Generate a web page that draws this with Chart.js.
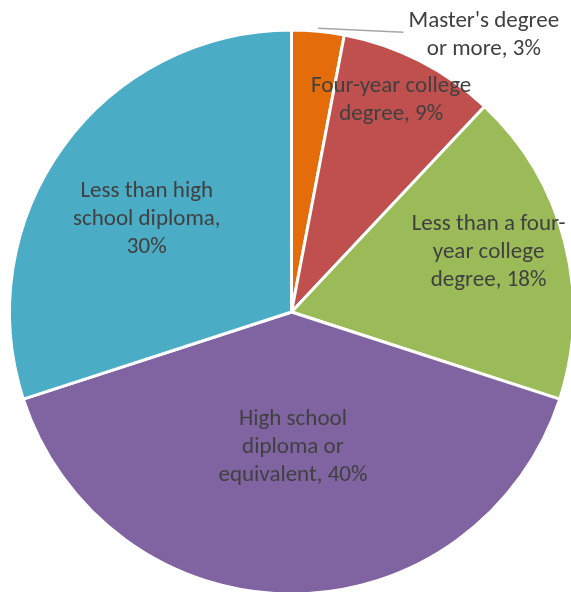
<!DOCTYPE html>
<html>
<head>
<meta charset="utf-8">
<script src="https://cdn.jsdelivr.net/npm/chart.js@4/dist/chart.umd.min.js"></script>
<style>
  html, body { margin: 0; padding: 0; background: #fff; }
  #wrap { width: 571px; height: 592px; position: relative; }
</style>
</head>
<body>
<div id="wrap"><canvas id="pieChart"></canvas></div>
<script>
var categories = ["Master's degree or more", "Four-year college degree", "Less than a four-year college degree", "High school diploma or equivalent", "Less than high school diploma"];
var shares = [3, 9, 18, 40, 30];
// how each label is broken into lines
var labelLines = [
    ["Master's degree", "or more, "],
    ["Four-year college", "degree, "],
    ["Less than a four-", "year college", "degree, "],
    ["High school", "diploma or", "equivalent, "],
    ["Less than high", "school diploma,", ""]
];
var sliceColors = ['#E46C0A', '#C0504D', '#9BBB59', '#8064A2', '#4BACC6'];

// label placement: angle (deg, clockwise from top) and distance as a fraction of the radius
var labelPlaces = [
    { deg: 34.8, frac: 1.195, leader: true },
    { deg: 25.2, frac: 0.83 },
    { deg: 73.2, frac: 0.73 },
    { deg: 179.4, frac: 0.48 },
    { deg: 302.7, frac: 0.61 }
];

var sliceLabels = {
    id: 'sliceLabels',
    afterDatasetsDraw: function(chart) {
        var ctx = chart.ctx;
        var arcs = chart.getDatasetMeta(0).data;
        var cx = arcs[0].x, cy = arcs[0].y, r = arcs[0].outerRadius;
        ctx.save();
        ctx.font = '23px Carlito, Lato, sans-serif';
        ctx.fillStyle = '#404040';
        ctx.textAlign = 'center';
        ctx.textBaseline = 'middle';
        var lh = 28;
        for (var i = 0; i < arcs.length; i++) {
            var p = labelPlaces[i];
            var a = p.deg * Math.PI / 180;
            var lx = cx + Math.sin(a) * r * p.frac;
            var ly = cy - Math.cos(a) * r * p.frac;
            var lines = labelLines[i].slice();
            lines[lines.length - 1] += shares[i] + '%';
            if (p.leader) {
                var arc = arcs[i];
                var mid = (arc.startAngle + arc.endAngle) / 2;
                ctx.save();
                ctx.strokeStyle = '#A6A6A6';
                ctx.lineWidth = 1.5;
                ctx.beginPath();
                ctx.moveTo(cx + Math.cos(mid) * (r + 1), cy + Math.sin(mid) * (r + 1) - 2);
                var tw = Math.max.apply(null, lines.map(function(s) { return ctx.measureText(s).width; }));
                ctx.lineTo(lx - tw / 2 - 5, ly - 3);
                ctx.stroke();
                ctx.restore();
            }
            var y0 = ly - (lines.length - 1) * lh / 2;
            for (var j = 0; j < lines.length; j++) {
                ctx.fillText(lines[j], lx, y0 + j * lh);
            }
        }
        ctx.restore();
    }
};

var pie_chart = new Chart(document.getElementById('pieChart'), {
    type: 'pie',
    data: {
        labels: categories,
        datasets: [{
            data: shares,
            backgroundColor: sliceColors,
            borderColor: '#ffffff',
            borderWidth: 3,
            hoverOffset: 0,
            radius: 282
        }]
    },
    options: {
        responsive: true,
        maintainAspectRatio: false,
        animation: false,
        events: [],
        layout: { padding: { left: 12, right: 0, top: 32, bottom: 0 } },
        plugins: {
            legend: { display: false },
            tooltip: { enabled: false }
        }
    },
    plugins: [sliceLabels]
});
</script>
</body>
</html>
